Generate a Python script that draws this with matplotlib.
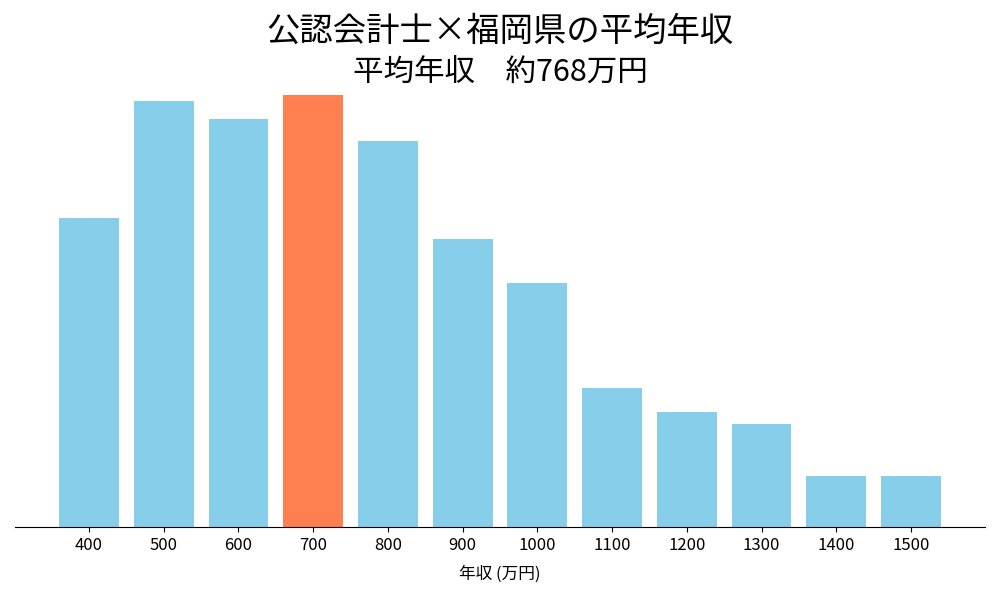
import matplotlib
matplotlib.use('Agg')
import matplotlib.pyplot as plt

plt.rcParams['font.family'] = ['Noto Sans CJK JP', 'DejaVu Sans']

# 年収帯 (万円) と割合
nenshu = ['400', '500', '600', '700', '800', '900', '1000', '1100', '1200', '1300', '1400', '1500']
wariai = [30.9, 42.6, 40.8, 43.2, 38.6, 28.8, 24.4, 13.9, 11.5, 10.3, 5.1, 5.1]
heikin_label = '700'  # 平均年収の帯

colors = ['#FF7F50' if n == heikin_label else '#87CEEB' for n in nenshu]

fig, ax = plt.subplots(figsize=(10, 6), dpi=100)
ax.bar(nenshu, wariai, color=colors, width=0.8)

fig.text(0.5, 0.948, '公認会計士×福岡県の平均年収', fontsize=24, ha='center', va='center')
fig.text(0.5, 0.878, '平均年収　約768万円', fontsize=22, ha='center', va='center')
ax.set_xlabel('年収 (万円)', fontsize=12, labelpad=9)
ax.tick_params(axis='x', labelsize=12)

ax.set_yticks([])
for s in ['top', 'right', 'left']:
    ax.spines[s].set_visible(False)

plt.subplots_adjust(left=0.015, right=0.985, top=0.878, bottom=0.122)
plt.savefig('out.png')
